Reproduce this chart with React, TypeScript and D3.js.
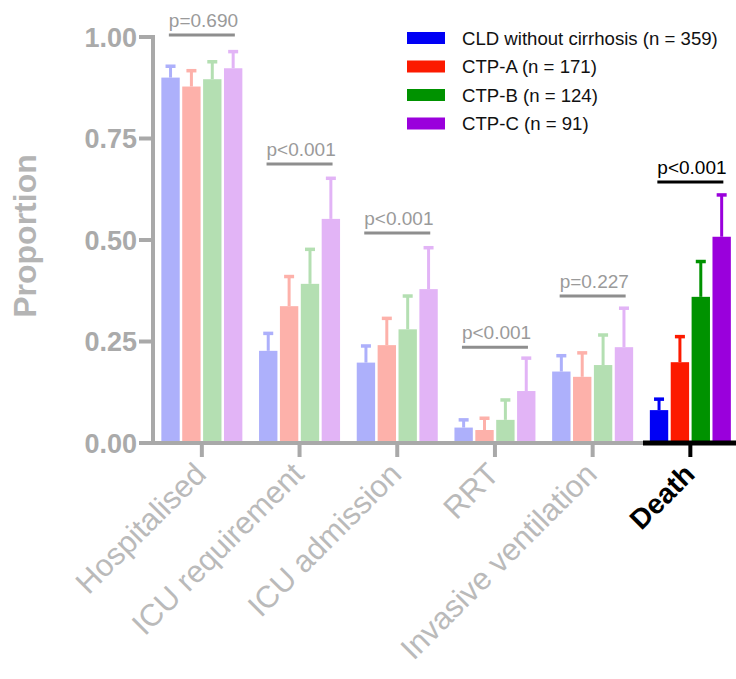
import React from 'react';
import * as d3 from 'd3';

const categories = ['Hospitalised', 'ICU requirement', 'ICU admission', 'RRT', 'Invasive ventilation', 'Death'];
const seriesNames = ['CLD without cirrhosis (n = 359)', 'CTP-A (n = 171)', 'CTP-B (n = 124)', 'CTP-C (n = 91)'];
const cldValues = [0.9, 0.227, 0.198, 0.038, 0.176, 0.081];
const cldUpper = [0.928, 0.27, 0.239, 0.057, 0.215, 0.108];
const ctpAValues = [0.878, 0.337, 0.241, 0.032, 0.163, 0.199];
const ctpAUpper = [0.917, 0.41, 0.307, 0.061, 0.222, 0.262];
const ctpBValues = [0.896, 0.392, 0.28, 0.057, 0.192, 0.36];
const ctpBUpper = [0.939, 0.477, 0.362, 0.106, 0.266, 0.447];
const ctpCValues = [0.923, 0.552, 0.379, 0.128, 0.236, 0.508];
const ctpCUpper = [0.964, 0.652, 0.481, 0.209, 0.332, 0.611];
const pLabels = ['p=0.690', 'p<0.001', 'p<0.001', 'p<0.001', 'p=0.227', 'p<0.001'];
const pLineLevels = [1.005, 0.687, 0.517, 0.236, 0.362, 0.643];
const yTicks = [0, 0.25, 0.5, 0.75, 1.0];
const highlighted = 'Death';

const strongColors = ['#0000f5', '#fc1a00', '#009200', '#9a00dc'];
const fadedColors = ['#adb0fb', '#fdb1aa', '#b4dfb2', '#e2b4f6'];

const values = [cldValues, ctpAValues, ctpBValues, ctpCValues];
const uppers = [cldUpper, ctpAUpper, ctpBUpper, ctpCUpper];

const FONT = '"Liberation Sans", Arial, Helvetica, sans-serif';

export default function App() {
  const W = 736;
  const H = 679;
  const axisX = 153;
  const y = d3.scaleLinear().domain([0, 1]).range([443, 37]);
  const x = d3.scaleBand<string>().domain(categories).range([axisX, axisX + 6 * 97.7]).padding(0);
  const inner = d3
    .scaleBand<number>()
    .domain([0, 1, 2, 3])
    .range([-40.5, 40.5])
    .paddingInner(0.12)
    .paddingOuter(0);
  const bw = inner.bandwidth();
  const grayAxis = '#a9a9a9';
  const deathStart = (x(highlighted) as number) + 1.5;

  return (
    <svg
      width={W}
      height={H}
      style={{ position: 'absolute', left: 0, top: 0, background: '#fff' }}
      fontFamily={FONT}
    >
      <rect x={0} y={0} width={W} height={H} fill="#ffffff" />

      {/* bars and error bars */}
      {categories.map((cat, ci) => {
        const cx = (x(cat) as number) + x.bandwidth() / 2;
        const hi = cat === highlighted;
        return (
          <g key={cat}>
            {values.map((vals, si) => {
              const bx = cx + (inner(si) as number);
              const col = hi ? strongColors[si] : fadedColors[si];
              const mid = bx + bw / 2;
              return (
                <g key={si}>
                  <line x1={mid} x2={mid} y1={y(vals[ci])} y2={y(uppers[si][ci])} stroke={col} strokeWidth={3} />
                  <line x1={mid - 5} x2={mid + 5} y1={y(uppers[si][ci])} y2={y(uppers[si][ci])} stroke={col} strokeWidth={3.5} />
                  <rect x={bx} y={y(vals[ci])} width={bw} height={y(0) - y(vals[ci])} fill={col} />
                </g>
              );
            })}
            {/* p-value bracket */}
            <line
              x1={cx - 33}
              x2={cx + 33}
              y1={y(pLineLevels[ci])}
              y2={y(pLineLevels[ci])}
              stroke={hi ? '#000' : '#8e8e8e'}
              strokeWidth={3}
            />
            <text
              x={cx - 33}
              y={y(pLineLevels[ci]) - 8}
              fontSize={19}
              fill={hi ? '#000' : '#9a9a9a'}
              fontWeight={400}
            >
              {pLabels[ci]}
            </text>
          </g>
        );
      })}

      {/* y axis */}
      <line x1={axisX} x2={axisX} y1={y(1) - 2} y2={y(0) + 2} stroke={grayAxis} strokeWidth={4} />
      {yTicks.map((t) => (
        <g key={t}>
          <line x1={axisX - 14} x2={axisX} y1={y(t)} y2={y(t)} stroke={grayAxis} strokeWidth={4} />
          <text
            x={axisX - 16}
            y={y(t)}
            dy="0.36em"
            textAnchor="end"
            fontSize={27}
            fontWeight={700}
            fill="#aaaaaa"
          >
            {d3.format('.2f')(t)}
          </text>
        </g>
      ))}
      <text
        transform={`translate(36, 236) rotate(-90)`}
        textAnchor="middle"
        fontSize={32}
        fontWeight={700}
        fill="#b4b4b4"
      >
        Proportion
      </text>

      {/* x axis */}
      <line x1={axisX - 2} x2={deathStart} y1={y(0)} y2={y(0)} stroke={grayAxis} strokeWidth={4} />
      <line x1={deathStart} x2={W} y1={y(0)} y2={y(0)} stroke="#000" strokeWidth={5} />
      {categories.map((cat) => {
        const cx = (x(cat) as number) + x.bandwidth() / 2;
        const hi = cat === highlighted;
        return (
          <g key={cat}>
            <line x1={cx} x2={cx} y1={y(0)} y2={y(0) + 14} stroke={hi ? '#000' : grayAxis} strokeWidth={4} />
            <text
              transform={`translate(${cx + 6}, ${y(0) + 33}) rotate(-45)`}
              textAnchor="end"
              fontSize={hi ? 28 : 31}
              fontWeight={hi ? 700 : 400}
              fill={hi ? '#000' : '#bababa'}
            >
              {cat}
            </text>
          </g>
        );
      })}

      {/* legend */}
      {seriesNames.map((name, i) => (
        <g key={name} transform={`translate(407, ${38 + i * 28.5})`}>
          <rect x={0} y={-6} width={38} height={12} fill={strongColors[i]} />
          <text x={55} y={0} dy="0.36em" fontSize={18.6} fill="#111">
            {name}
          </text>
        </g>
      ))}
    </svg>
  );
}
